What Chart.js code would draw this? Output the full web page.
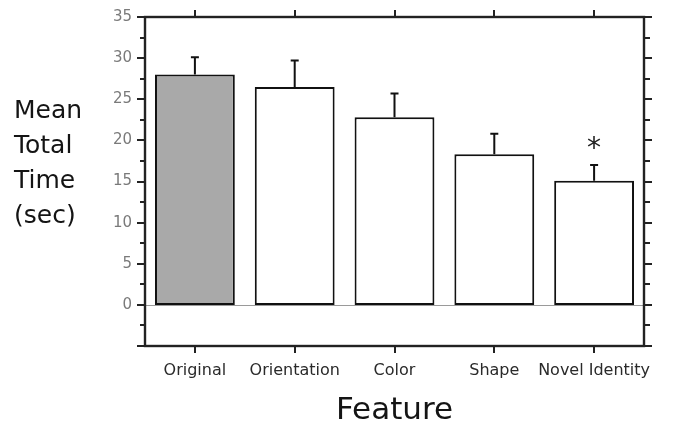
<!DOCTYPE html>
<html>
<head>
<meta charset="utf-8">
<script src="https://cdn.jsdelivr.net/npm/chart.js@4.4.1/dist/chart.umd.min.js"></script>
<style>
	html, body { margin: 0; padding: 0; background: #fff; }
	#wrap { position: relative; width: 677px; height: 428px; }
</style>
</head>
<body>
<div id="wrap"><canvas id="feature_time_bar"></canvas></div>
<script>
const features = ['Original', 'Orientation', 'Color', 'Shape', 'Novel Identity'];
const meanTime = [28.0, 26.5, 22.8, 18.3, 15.1];
const errTime = [2.1, 3.2, 2.9, 2.5, 1.9];
const barFill = ['#a9a9a9', '#ffffff', '#ffffff', '#ffffff', '#ffffff'];
const sigMarks = ['', '', '', '', '*'];
const yTitleLines = ['Mean', 'Total', 'Time', '(sec)'];

const axisColor = '#222';

// error bars, zero line, frame + ticks, y title
const extras = {
	id: 'extras',
	beforeDatasetsDraw(chart) {
		const { ctx, chartArea: a, scales: { y } } = chart;
		const y0 = Math.round(y.getPixelForValue(0)) + 0.5;
		ctx.save();
		ctx.strokeStyle = '#9a9a9a';
		ctx.lineWidth = 1;
		ctx.beginPath();
		ctx.moveTo(a.left, y0);
		ctx.lineTo(a.right, y0);
		ctx.stroke();
		ctx.restore();
	},
	afterDatasetsDraw(chart) {
		const { ctx, scales: { y } } = chart;
		const meta = chart.getDatasetMeta(0);
		ctx.save();
		ctx.strokeStyle = '#111';
		ctx.lineWidth = 2;
		meta.data.forEach((bar, i) => {
			const top = y.getPixelForValue(meanTime[i] + errTime[i]);
			ctx.beginPath();
			ctx.moveTo(bar.x, bar.y);
			ctx.lineTo(bar.x, top);
			ctx.moveTo(bar.x - 4, top);
			ctx.lineTo(bar.x + 4, top);
			ctx.stroke();
			if (sigMarks[i]) {
				ctx.fillStyle = '#222';
				ctx.font = '28px "DejaVu Sans"';
				ctx.textAlign = 'center';
				ctx.textBaseline = 'alphabetic';
				ctx.fillText(sigMarks[i], bar.x, top - 8);
			}
		});
		ctx.restore();
	},
	afterDraw(chart) {
		const { ctx, chartArea: a, scales: { x, y } } = chart;
		ctx.save();
		ctx.strokeStyle = axisColor;
		ctx.lineWidth = 2.4;
		ctx.strokeRect(a.left, a.top, a.right - a.left, a.bottom - a.top);

		ctx.lineWidth = 2;
		ctx.beginPath();
		for (let v = -5; v <= 35; v += 2.5) {
			const py = Math.round(y.getPixelForValue(v));
			const major = v % 5 === 0;
			ctx.moveTo(a.left - (major ? 8 : 5), py);
			ctx.lineTo(a.left, py);
			ctx.moveTo(a.right, py);
			ctx.lineTo(a.right + (major ? 8 : 6), py);
		}
		features.forEach((f, i) => {
			const px = Math.round(x.getPixelForValue(i));
			ctx.moveTo(px, a.top - 7);
			ctx.lineTo(px, a.top);
			ctx.moveTo(px, a.bottom);
			ctx.lineTo(px, a.bottom + 7);
		});
		ctx.stroke();

		ctx.fillStyle = '#141414';
		ctx.font = '25px "DejaVu Sans"';
		ctx.textAlign = 'left';
		ctx.textBaseline = 'alphabetic';
		yTitleLines.forEach((t, i) => {
			ctx.fillText(t, 14, 118 + i * 35);
		});
		ctx.restore();
	}
};

const canvas = document.getElementById('feature_time_bar');
const data = {
	labels: features,
	datasets: [{
		data: meanTime,
		backgroundColor: barFill,
		borderColor: '#111',
		borderWidth: 2,
		borderSkipped: false,
		barPercentage: 0.8,
		categoryPercentage: 1.0
	}]
};

const config = {
	type: 'bar',
	data: data,
	plugins: [extras],
	options: {
		responsive: true,
		maintainAspectRatio: false,
		animation: false,
		layout: {
			padding: { top: 17, right: 33, bottom: 0, left: 0 }
		},
		scales: {
			x: {
				grid: { display: false, drawTicks: false },
				border: { display: false },
				ticks: {
					color: '#2a2a2a',
					padding: 15,
					maxRotation: 0,
					autoSkip: false,
					font: { family: 'DejaVu Sans', size: 16 }
				},
				title: {
					display: true,
					text: 'Feature',
					color: '#141414',
					padding: { top: 0, bottom: 2 },
					font: { family: 'DejaVu Sans', size: 31, lineHeight: 1 }
				},
				afterFit: (scale) => {
					scale.height = 82;
					scale.paddingLeft = 0;
					scale.paddingRight = 0;
				}
			},
			y: {
				min: -5,
				max: 35,
				grid: { display: false, drawTicks: false },
				border: { display: false },
				ticks: {
					stepSize: 5,
					color: '#7a7a7a',
					padding: 13,
					font: { family: 'DejaVu Sans', size: 15 },
					callback: (v) => (v < 0 ? '' : v)
				},
				afterFit: (scale) => {
					scale.width = 145;
					scale.paddingTop = 0;
					scale.paddingBottom = 0;
				}
			}
		},
		plugins: {
			legend: { display: false },
			tooltip: { enabled: false }
		}
	}
};

new Chart(canvas.getContext('2d'), config);
</script>
</body>
</html>
